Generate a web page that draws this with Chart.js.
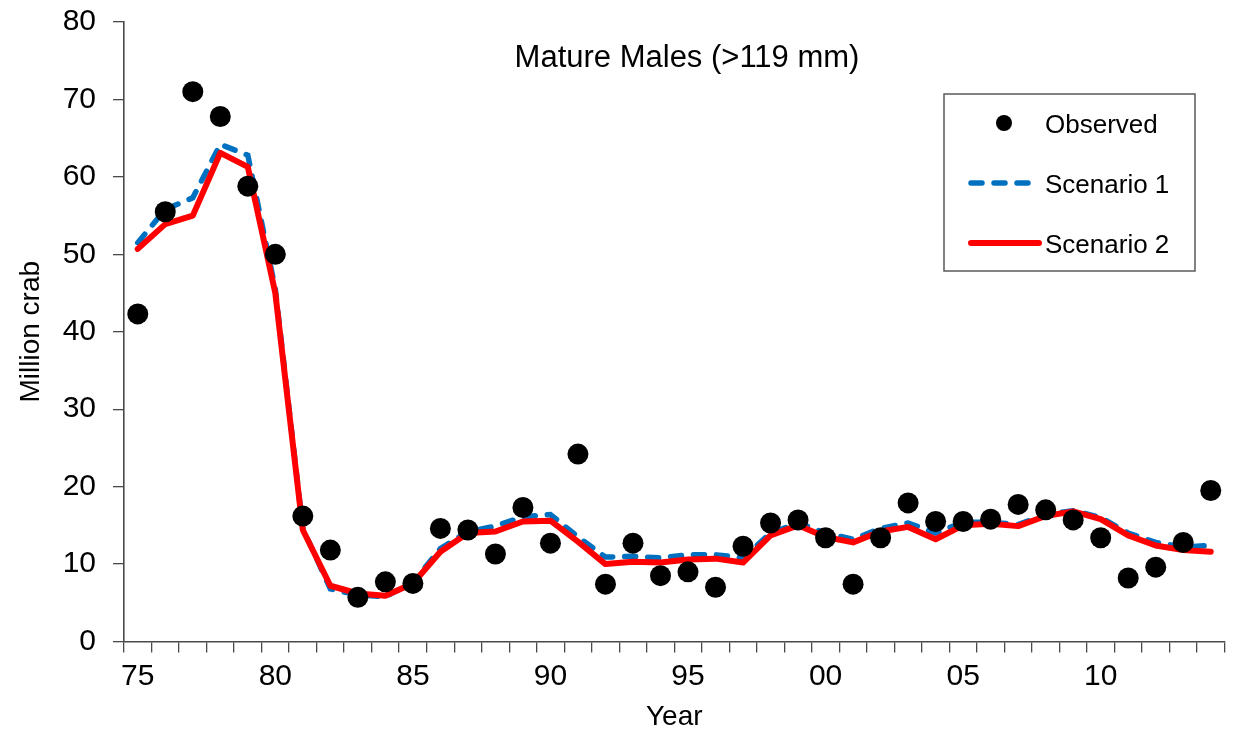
<!DOCTYPE html>
<html><head><meta charset="utf-8">
<script src="https://cdn.jsdelivr.net/npm/chart.js@4"></script>
<style>html,body{margin:0;padding:0;background:#fff;} #wrap{width:1235px;height:731px;}</style>
</head><body><div id="wrap"><canvas id="c" width="1235" height="731"></canvas></div>
<script>
const years = [1975,1976,1977,1978,1979,1980,1981,1982,1983,1984,1985,1986,1987,1988,1989,1990,1991,1992,1993,1994,1995,1996,1997,1998,1999,2000,2001,2002,2003,2004,2005,2006,2007,2008,2009,2010,2011,2012,2013,2014];
const tickLabels = ['75','76','77','78','79','80','81','82','83','84','85','86','87','88','89','90','91','92','93','94','95','96','97','98','99','00','01','02','03','04','05','06','07','08','09','10','11','12','13','14'];
const observed = [42.3,55.5,71.0,67.8,58.8,50.0,16.2,11.8,5.7,7.7, 7.5,14.6,14.4,11.3,17.3,12.7,24.2,7.4,12.7,8.5, 9.0,7.0,12.3,15.3,15.7,13.4,7.4,13.4,17.9,15.5, 15.5,15.8,17.7,17.0,15.7,13.4,8.2,9.6,12.8,19.5];
const scenario1 = [51.5,55.8,57.3,64.2,62.8,45.5,14.6,6.8,6.0,5.8, 7.6,12.0,14.2,14.9,16.1,16.4,13.5,10.9,11.0,10.8, 11.2,11.2,10.8,14.0,15.3,14.0,13.2,14.6,15.3,14.0, 15.4,15.4,15.1,16.4,16.9,16.0,14.0,12.8,12.2,12.4];
const scenario2 = [50.7,53.9,55.0,63.1,61.3,45.0,14.4,7.2,6.2,5.9, 7.5,11.6,14.0,14.2,15.5,15.6,12.9,10.0,10.3,10.2, 10.6,10.7,10.2,13.7,15.0,13.5,12.8,14.2,14.8,13.2, 15.0,15.2,14.9,16.2,16.8,15.8,13.7,12.4,11.8,11.6];
const seriesNames = ['Observed','Scenario 1','Scenario 2'];
const titleText = 'Mature Males (>119 mm)';
const yTitle = 'Million crab';
const xTitle = 'Year';

const FONT = '"Liberation Sans", Arial, sans-serif';
const AXIS = '#4a4a4a';

const overlay = {
  id: 'overlay',
  afterDraw(chart) {
    const ctx = chart.ctx;
    ctx.save();
    ctx.fillStyle = '#000';
    ctx.font = '31px ' + FONT;
    ctx.textAlign = 'center';
    ctx.textBaseline = 'alphabetic';
    ctx.fillText(titleText, 687, 67);
    // legend
    ctx.strokeStyle = '#595959';
    ctx.lineWidth = 1.5;
    ctx.strokeRect(944, 94, 251, 177);
    const rows = [123, 183, 243];
    ctx.font = '26px ' + FONT;
    ctx.textAlign = 'left';
    chart.data.datasets.forEach((ds, i) => {
      const y = rows[i];
      if (ds.showLine === false) {
        ctx.beginPath();
        ctx.fillStyle = ds.pointBackgroundColor;
        ctx.arc(1004, y, 8, 0, Math.PI * 2);
        ctx.fill();
      } else {
        ctx.beginPath();
        ctx.strokeStyle = ds.borderColor;
        ctx.lineWidth = ds.borderWidth;
        ctx.lineCap = 'round';
        ctx.setLineDash(ds.borderDash || []);
        ctx.moveTo(971, y);
        ctx.lineTo(1039, y);
        ctx.stroke();
        ctx.setLineDash([]);
      }
      ctx.fillStyle = '#000';
      ctx.fillText(ds.label, 1045, y + 9.5);
    });
    ctx.restore();
  }
};

new Chart(document.getElementById('c'), {
  type: 'line',
  data: {
    labels: tickLabels,
    datasets: [
      { label: seriesNames[0], data: observed, showLine: false, pointRadius: 10.5, pointHoverRadius: 10.5,
        pointBackgroundColor: '#000', pointBorderColor: '#000', pointBorderWidth: 0, borderColor: '#000', order: 0 },
      { label: seriesNames[1], data: scenario1, borderColor: '#0070C0', borderWidth: 5.5, borderDash: [11, 12],
        borderCapStyle: 'round', pointRadius: 0, tension: 0, fill: false, order: 2 },
      { label: seriesNames[2], data: scenario2, borderColor: '#FF0000', borderWidth: 6,
        borderCapStyle: 'round', borderJoinStyle: 'round', pointRadius: 0, tension: 0, fill: false, order: 1 }
    ]
  },
  options: {
    responsive: false,
    animation: false,
    devicePixelRatio: 1,
    layout: { padding: { left: 0, top: 22, right: 7.5, bottom: 0 } },
    plugins: { legend: { display: false }, title: { display: false }, tooltip: { enabled: false } },
    scales: {
      x: {
        type: 'category',
        offset: true,
        grid: { offset: true, drawOnChartArea: false, drawTicks: true, tickLength: 11, color: AXIS, lineWidth: 1.3 },
        border: { display: true, color: AXIS, width: 1.6 },
        ticks: {
          autoSkip: false, maxRotation: 0, minRotation: 0, padding: 6, color: '#000',
          font: { family: FONT, size: 30 },
          callback: function(v, i) { return years[i] % 5 === 0 ? tickLabels[i] : ''; }
        },
        title: { display: true, text: xTitle, color: '#000', font: { family: FONT, size: 28, lineHeight: 1.0 }, padding: { top: 0, bottom: 0 } },
        afterFit: function(s) { s.height = 89.5; s.paddingLeft = 0; s.paddingRight = 0; }
      },
      y: {
        min: 0, max: 80,
        grid: { drawOnChartArea: false, drawTicks: true, tickLength: 11, color: AXIS, lineWidth: 1.3 },
        border: { display: true, color: AXIS, width: 1.6 },
        ticks: { stepSize: 10, padding: 17, color: '#000', font: { family: FONT, size: 30 } },
        title: { display: true, text: yTitle, color: '#000', font: { family: FONT, size: 28 }, padding: { top: 14, bottom: 0 } },
        afterFit: function(s) { s.width = 124; s.paddingTop = 0; s.paddingBottom = 0; }
      }
    }
  },
  plugins: [overlay]
});
</script>
</body></html>
